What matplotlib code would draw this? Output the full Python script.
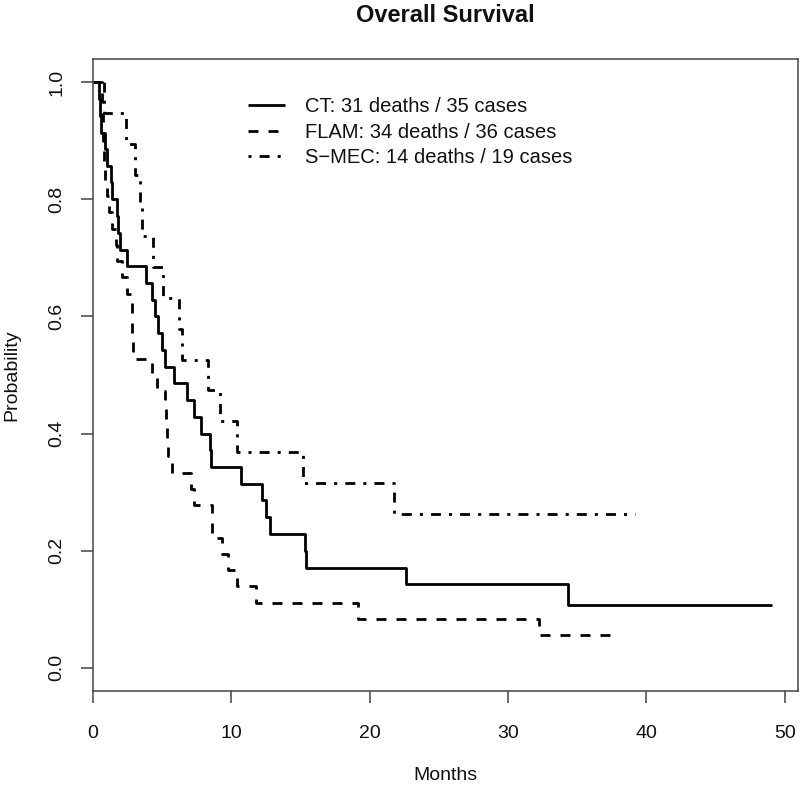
import matplotlib
matplotlib.use("Agg")
import matplotlib.pyplot as plt

# ---- data ----
ct_time = [0, 0.48, 0.53, 0.60, 0.87, 1.03, 1.34, 1.43, 1.73, 1.83, 1.97, 2.45,
           3.83, 4.26, 4.50, 4.71, 4.98, 5.22, 5.89, 6.79, 7.31, 7.80, 8.47, 8.52,
           10.71, 12.20, 12.49, 12.80, 15.33, 15.40, 22.62, 34.34, 49.1]
ct_surv = [1.0, 0.971, 0.943, 0.914, 0.886, 0.857, 0.829, 0.800, 0.771, 0.743,
           0.714, 0.686, 0.657, 0.629, 0.600, 0.571, 0.543, 0.514, 0.486, 0.457,
           0.429, 0.400, 0.371, 0.343, 0.314, 0.286, 0.257, 0.229, 0.200, 0.171,
           0.143, 0.107, 0.107]

flam_time = [0, 0.65, 0.67, 0.75, 0.78, 0.82, 0.89, 1.03, 1.18, 1.37, 1.68, 1.78,
             2.12, 2.45, 2.82, 2.84, 2.87, 2.91, 4.26, 4.64, 5.22, 5.29, 5.36, 5.44,
             5.70, 7.08, 7.35, 8.59, 8.65, 9.34, 9.77, 10.40, 11.79, 19.18, 32.25, 37.47]
flam_surv = [1.0, 0.972, 0.944, 0.917, 0.889, 0.861, 0.833, 0.806, 0.778, 0.750,
             0.722, 0.694, 0.667, 0.639, 0.611, 0.583, 0.556, 0.528, 0.500, 0.472,
             0.444, 0.417, 0.389, 0.361, 0.333, 0.306, 0.278, 0.250, 0.222, 0.194,
             0.167, 0.139, 0.111, 0.083, 0.056, 0.056]

smec_time = [0, 0.82, 2.37, 3.05, 3.42, 3.54, 4.38, 5.10, 6.25, 6.43, 8.35, 9.19,
             10.40, 15.18, 21.78, 39.2]
smec_surv = [1.0, 0.947, 0.895, 0.842, 0.789, 0.737, 0.684, 0.632, 0.579, 0.526,
             0.474, 0.421, 0.368, 0.316, 0.263, 0.263]

labels = ["CT: 31 deaths / 35 cases",
          "FLAM: 34 deaths / 36 cases",
          "S\u2212MEC: 14 deaths / 19 cases"]
x_ticks = [0, 10, 20, 30, 40, 50]
y_ticks = [0.0, 0.2, 0.4, 0.6, 0.8, 1.0]
y_ticklabels = ["0.0", "0.2", "0.4", "0.6", "0.8", "1.0"]

plt.rcParams['font.family'] = ['Liberation Sans', 'DejaVu Sans']

W, H = 800, 785
fig = plt.figure(figsize=(W / 100, H / 100), dpi=100)
L, R, T, B = 92.7, 798.0, 59.0, 691.0
ax = fig.add_axes([L / W, 1 - B / H, (R - L) / W, (B - T) / H])

lw = 2.0
ax.plot(ct_time, ct_surv, drawstyle='steps-post', color='black', lw=lw,
        solid_capstyle='butt', label=labels[0])
ax.plot(flam_time, flam_surv, drawstyle='steps-post', color='black', lw=lw,
        dashes=(3.6, 3.6), dash_capstyle='butt', label=labels[1])
ax.plot(smec_time, smec_surv, drawstyle='steps-post', color='black', lw=lw,
        dashes=(1.1, 2.9, 3.6, 2.9), dash_capstyle='butt', label=labels[2])

ax.set_xlim(0, 50.96)
ax.set_ylim(-0.04, 1.04)

axis_col = '#444444'
for s in ax.spines.values():
    s.set_color(axis_col)
    s.set_linewidth(1.1)

ax.set_xticks(x_ticks)
ax.set_xticklabels([str(v) for v in x_ticks])
ax.set_yticks(y_ticks)
ax.set_yticklabels(y_ticklabels, rotation=90, va='center')
ax.tick_params(axis='both', direction='out', length=8.8, width=1.1,
               color=axis_col, labelsize=14, labelcolor='#111111')
ax.tick_params(axis='x', pad=16)
ax.tick_params(axis='y', pad=11)

fig.text(((L + R) / 2) / W, 1 - 775 / H, "Months", ha='center', va='center',
         fontsize=14, color='#111111')
fig.text(12 / W, 1 - ((T + B) / 2) / H, "Probability", ha='center', va='center',
         rotation=90, fontsize=14, color='#111111')
fig.text(((L + R) / 2) / W, 1 - 15 / H, "Overall Survival", ha='center',
         va='center', fontsize=17, fontweight='bold', color='#111111')

leg = ax.legend(loc='upper left', bbox_to_anchor=((248 - L) / (R - L), (B - 97) / (B - T)),
                frameon=False, fontsize=14.5, handlelength=1.85, handletextpad=1.0,
                labelspacing=0.33, borderpad=0, borderaxespad=0)
for t in leg.get_texts():
    t.set_color('#111111')

fig.savefig("out.png", dpi=100)
